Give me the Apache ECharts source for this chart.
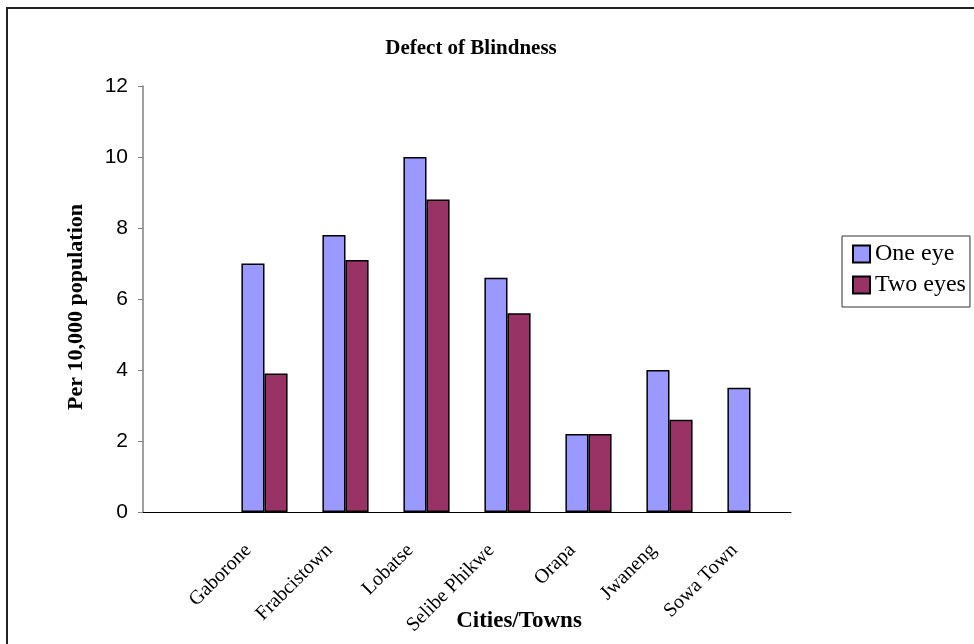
<!DOCTYPE html>
<html>
<head>
<meta charset="utf-8">
<script src="https://cdn.jsdelivr.net/npm/echarts@6/dist/echarts.min.js"></script>
<style>
html, body { margin: 0; padding: 0; background: #fff; }
#main { width: 974px; height: 644px; }
</style>
</head>
<body>
<div id="main"></div>
<script>
// categories (first slot is empty in the original)
var cities = ['', 'Gaborone', 'Frabcistown', 'Lobatse', 'Selibe Phikwe', 'Orapa', 'Jwaneng', 'Sowa Town'];
var oneEye = [null, 7, 7.8, 10, 6.6, 2.2, 4.0, 3.5];
var twoEyes = [null, 3.9, 7.1, 8.8, 5.6, 2.2, 2.6, null];
var yTicks = { min: 0, max: 12, step: 2 };

var serif = '"Liberation Serif", "DejaVu Serif", serif';
var sans = '"Liberation Sans", Arial, sans-serif';

var chart = echarts.init(document.getElementById('main'));
chart.setOption({
    animation: false,
    backgroundColor: '#fff',
    title: {
        text: 'Defect of Blindness',
        left: 466,
        textAlign: 'center',
        top: 33,
        textStyle: { fontFamily: serif, fontWeight: 'bold', fontSize: 21, color: '#000' }
    },
    legend: {
        orient: 'vertical',
        left: 842,
        top: 236,
        itemWidth: 17,
        itemHeight: 17,
        itemGap: 7,
        padding: [6, 4, 10, 10],
        borderColor: '#333',
        borderWidth: 1,
        icon: 'rect',
        textStyle: { fontFamily: serif, fontSize: 24, lineHeight: 22, color: '#000' },
        data: ['One eye', 'Two eyes']
    },
    grid: { left: 143, right: 183, top: 86, bottom: 132, outerBoundsMode: 'none' },
    xAxis: {
        type: 'category',
        data: cities,
        name: 'Cities/Towns',
        nameLocation: 'middle',
        nameGap: 98,
        nameMoveOverlap: false,
        nameTextStyle: { fontFamily: serif, fontWeight: 'bold', fontSize: 23, color: '#000', padding: [0, 0, 0, 104] },
        axisLine: { lineStyle: { color: '#000', width: 1 } },
        axisTick: { length: 5, lineStyle: { color: '#808080' } },
        axisLabel: {
            interval: 0,
            rotate: 45,
            margin: 19,
            padding: [0, 23, 0, 0],
            fontFamily: serif,
            fontSize: 20,
            color: '#000'
        }
    },
    yAxis: {
        type: 'value',
        min: yTicks.min,
        max: yTicks.max,
        interval: yTicks.step,
        name: 'Per 10,000 population',
        nameLocation: 'middle',
        nameGap: 56,
        nameMoveOverlap: false,
        nameTextStyle: { fontFamily: serif, fontWeight: 'bold', fontSize: 22, color: '#000', padding: [0, 16, 0, 0] },
        axisLine: { show: true, lineStyle: { color: '#808080', width: 1.5 } },
        axisTick: { show: true, length: 5, lineStyle: { color: '#808080' } },
        axisLabel: { fontFamily: sans, fontSize: 21, color: '#000', margin: 15 },
        splitLine: { show: false }
    },
    series: [
        {
            name: 'One eye',
            type: 'bar',
            data: oneEye,
            barGap: '0%',
            barCategoryGap: '43%',
            itemStyle: { color: '#9999FF', borderColor: '#000', borderWidth: 1.5 }
        },
        {
            name: 'Two eyes',
            type: 'bar',
            data: twoEyes,
            itemStyle: { color: '#993366', borderColor: '#000', borderWidth: 1.5 }
        }
    ],
    graphic: [
        {
            type: 'rect',
            shape: { x: 7, y: 8, width: 1000, height: 700 },
            style: { fill: 'none', stroke: '#222', lineWidth: 2 },
            silent: true
        }
    ]
});
</script>
</body>
</html>
